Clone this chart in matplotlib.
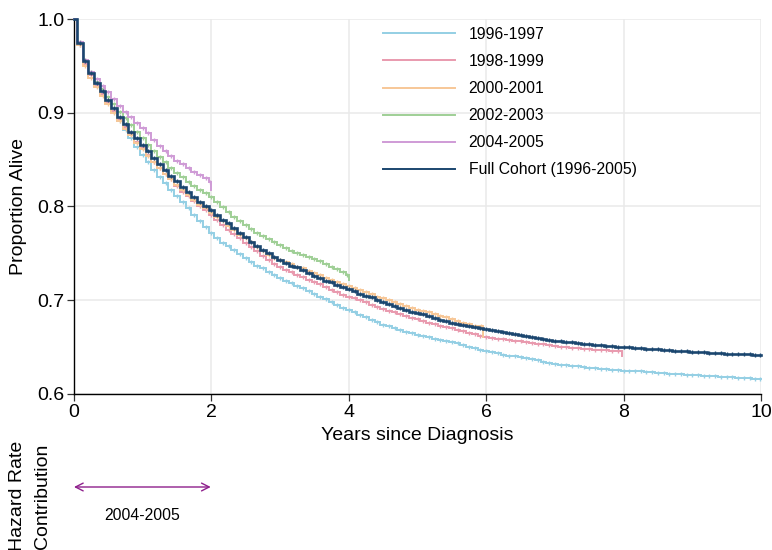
import numpy as np
import matplotlib
matplotlib.use("Agg")
import matplotlib.pyplot as plt
from matplotlib.transforms import blended_transform_factory

plt.rcParams['font.family'] = ['Liberation Sans', 'DejaVu Sans']

cohorts = ["1996-1997", "1998-1999", "2000-2001", "2002-2003", "2004-2005",
           "Full Cohort (1996-2005)"]
colors = ["#94cfe4", "#e99aae", "#f7c797", "#9fcf96", "#cf9bd6", "#1b466f"]
widths = [1.4, 1.4, 1.4, 1.4, 1.4, 1.9]

# Kaplan-Meier survival after each monthly event, one list per cohort
surv_9697 = [
    0.974, 0.955, 0.942, 0.931, 0.921, 0.911, 0.901, 0.891, 0.882, 0.873, 0.864, 0.855,
    0.847, 0.839, 0.832, 0.825, 0.818, 0.811, 0.805, 0.798, 0.791, 0.784, 0.778, 0.772,
    0.766, 0.761, 0.758, 0.754, 0.749, 0.745, 0.741, 0.737, 0.734, 0.730, 0.727, 0.724,
    0.721, 0.718, 0.715, 0.713, 0.710, 0.707, 0.704, 0.701, 0.698, 0.695, 0.692, 0.690,
    0.687, 0.684, 0.682, 0.679, 0.677, 0.674, 0.672, 0.670, 0.668, 0.666, 0.665, 0.663,
    0.662, 0.661, 0.659, 0.658, 0.657, 0.655, 0.654, 0.652, 0.650, 0.649, 0.647, 0.646,
    0.645, 0.644, 0.642, 0.641, 0.640, 0.639, 0.638, 0.637, 0.636, 0.634, 0.633, 0.632,
    0.631, 0.631, 0.630, 0.630, 0.629, 0.628, 0.628, 0.627, 0.627, 0.626, 0.626, 0.625,
    0.625, 0.624, 0.624, 0.623, 0.623, 0.622, 0.622, 0.621, 0.621, 0.621, 0.620, 0.620,
    0.620, 0.619, 0.619, 0.619, 0.618, 0.618, 0.618, 0.617, 0.617, 0.617, 0.616, 0.616,
]
surv_9899 = [
    0.972, 0.952, 0.940, 0.929, 0.920, 0.911, 0.902, 0.893, 0.885, 0.877, 0.869, 0.862,
    0.855, 0.848, 0.841, 0.835, 0.829, 0.822, 0.816, 0.811, 0.806, 0.801, 0.796, 0.791,
    0.786, 0.780, 0.775, 0.771, 0.766, 0.761, 0.757, 0.752, 0.747, 0.743, 0.739, 0.735,
    0.732, 0.730, 0.727, 0.725, 0.722, 0.719, 0.717, 0.714, 0.711, 0.709, 0.706, 0.704,
    0.702, 0.700, 0.698, 0.695, 0.693, 0.691, 0.689, 0.687, 0.685, 0.683, 0.681, 0.680,
    0.678, 0.676, 0.675, 0.673, 0.671, 0.670, 0.668, 0.667, 0.665, 0.664, 0.662, 0.661,
    0.660, 0.659, 0.659, 0.658, 0.657, 0.656, 0.655, 0.654, 0.653, 0.653, 0.652, 0.651,
    0.650, 0.650, 0.649, 0.649, 0.648, 0.648, 0.647, 0.647, 0.647, 0.646, 0.646,
]
surv_0001 = [
    0.972, 0.950, 0.937, 0.927, 0.918, 0.909, 0.900, 0.891, 0.883, 0.876, 0.868, 0.861,
    0.854, 0.848, 0.841, 0.835, 0.829, 0.823, 0.818, 0.812, 0.807, 0.802, 0.798, 0.793,
    0.789, 0.784, 0.779, 0.775, 0.770, 0.766, 0.762, 0.757, 0.752, 0.748, 0.745, 0.743,
    0.741, 0.739, 0.736, 0.734, 0.731, 0.729, 0.727, 0.724, 0.722, 0.720, 0.717, 0.715,
    0.713, 0.711, 0.709, 0.707, 0.704, 0.702, 0.700, 0.698, 0.696, 0.694, 0.692, 0.690,
    0.689, 0.687, 0.685, 0.683, 0.682, 0.680, 0.678, 0.676, 0.675, 0.673, 0.672,
]
surv_0203 = [
    0.975, 0.956, 0.943, 0.933, 0.925, 0.917, 0.909, 0.901, 0.894, 0.887, 0.880, 0.873,
    0.866, 0.859, 0.853, 0.847, 0.841, 0.836, 0.831, 0.826, 0.822, 0.818, 0.814, 0.810,
    0.805, 0.799, 0.794, 0.789, 0.784, 0.780, 0.776, 0.772, 0.768, 0.765, 0.762, 0.759,
    0.756, 0.753, 0.750, 0.748, 0.746, 0.744, 0.742, 0.739, 0.736, 0.733, 0.730, 0.727,
]
surv_0405 = [
    0.975, 0.956, 0.943, 0.936, 0.929, 0.922, 0.915, 0.907, 0.901, 0.895, 0.889, 0.884,
    0.878, 0.871, 0.865, 0.859, 0.854, 0.849, 0.845, 0.841, 0.837, 0.834, 0.830, 0.826,
]
surv_full = [
    0.974, 0.955, 0.942, 0.932, 0.923, 0.914, 0.905, 0.896, 0.888, 0.880, 0.873, 0.866,
    0.859, 0.852, 0.845, 0.839, 0.833, 0.827, 0.821, 0.815, 0.810, 0.805, 0.801, 0.796,
    0.791, 0.786, 0.782, 0.777, 0.772, 0.767, 0.762, 0.758, 0.754, 0.750, 0.746, 0.743,
    0.740, 0.737, 0.735, 0.732, 0.729, 0.726, 0.724, 0.721, 0.719, 0.716, 0.714, 0.712,
    0.710, 0.707, 0.705, 0.703, 0.700, 0.698, 0.696, 0.694, 0.692, 0.690, 0.688, 0.686,
    0.685, 0.683, 0.681, 0.679, 0.678, 0.676, 0.675, 0.674, 0.672, 0.671, 0.670, 0.669,
    0.668, 0.667, 0.666, 0.665, 0.664, 0.663, 0.662, 0.661, 0.660, 0.659, 0.658, 0.657,
    0.656, 0.6555, 0.655, 0.654, 0.6535, 0.653, 0.6525, 0.652, 0.6515, 0.651, 0.6505, 0.650,
    0.6497, 0.6493, 0.649, 0.6485, 0.648, 0.6475, 0.647, 0.6467, 0.6463, 0.646, 0.6455, 0.645,
    0.6447, 0.6443, 0.644, 0.6437, 0.6433, 0.643, 0.6428, 0.6426, 0.6424, 0.6422, 0.642, 0.642,
]
survival = [surv_9697, surv_9899, surv_0001, surv_0203, surv_0405, surv_full]

# end of follow-up in years and survival after the last event (None: no final drop)
followup = [10.0, 7.97, 5.96, 4.0, 1.99, 10.0]
final_surv = [None, 0.640, 0.661, 0.722, 0.8175, None]

x_ticks = [0, 2, 4, 6, 8, 10]
y_ticks = [0.6, 0.7, 0.8, 0.9, 1.0]
y_tick_labels = ["0.6", "0.7", "0.8", "0.9", "1.0"]


def km_path(values, end, last):
    n = len(values)
    t = (np.arange(1, n + 1) - 0.5) / 12.0
    times = np.concatenate([[0.0], t, [end]])
    tail = values[-1] if last is None else last
    surv = np.concatenate([[1.0], values, [tail]])
    return times, surv


W, H = 772, 550
fig = plt.figure(figsize=(W / 100, H / 100), dpi=100)
ax = fig.add_axes([74 / W, 156 / H, 687 / W, 375 / H])

for name, vals, end, last, col, lw in zip(cohorts, survival, followup, final_surv,
                                          colors, widths):
    times, surv = km_path(vals, end, last)
    ax.plot(times, surv, drawstyle="steps-post", color=col, lw=lw, label=name,
            clip_on=False, solid_joinstyle="miter", zorder=3)
    mids = (times[1:-1] + times[2:]) / 2
    ax.plot(mids, np.asarray(vals), linestyle="none", marker="|", markersize=3.5,
            markeredgewidth=1.0, color=col, clip_on=False, zorder=3)

ax.set_xlim(0, 10)
ax.set_ylim(0.6, 1.0)
ax.set_xticks(x_ticks)
ax.set_xticklabels([str(v) for v in x_ticks])
ax.set_yticks(y_ticks)
ax.set_yticklabels(y_tick_labels)
ax.grid(True, color="#eaeaea", lw=1.1, zorder=0)
ax.set_axisbelow(True)
for side in ("top", "right"):
    ax.spines[side].set_visible(False)
for side in ("left", "bottom"):
    ax.spines[side].set_linewidth(1.0)
    ax.spines[side].set_color("black")
ax.tick_params(axis="both", length=5, width=0.9, labelsize=14, color="#333333", pad=2)

ax.set_xlabel("Years since Diagnosis", fontsize=14)
ax.xaxis.set_label_coords(0.5, -0.088)
ax.set_ylabel("Proportion Alive", fontsize=14)
ax.yaxis.set_label_coords(-0.069, 0.5)

leg = ax.legend(loc="upper left", bbox_to_anchor=(0.4498, 0.979), frameon=False,
                fontsize=11.3, handlelength=4.6, handletextpad=0.85,
                labelspacing=0.77, borderpad=0, borderaxespad=0)
for handle in leg.get_lines():
    handle.set_linewidth(1.4)

# follow-up span of the most recent cohort
trans = blended_transform_factory(ax.transData, fig.transFigure)
ax.annotate("", xy=(followup[4], 1 - 487 / H), xytext=(0, 1 - 487 / H),
            xycoords=trans, textcoords=trans,
            arrowprops=dict(arrowstyle="<->,head_length=0.55,head_width=0.28",
                            color="#8e1f8c", lw=1.0, shrinkA=0, shrinkB=0),
            annotation_clip=False)
ax.text(followup[4] / 2, 1 - 516 / H, cohorts[4], transform=trans, ha="center",
        va="center", fontsize=11.3)

fig.text(30 / W, 1 - 496 / H, "Hazard Rate\nContribution", rotation=90,
         ha="center", va="center", fontsize=14, linespacing=1.62)

fig.savefig("out.png", dpi=100)
